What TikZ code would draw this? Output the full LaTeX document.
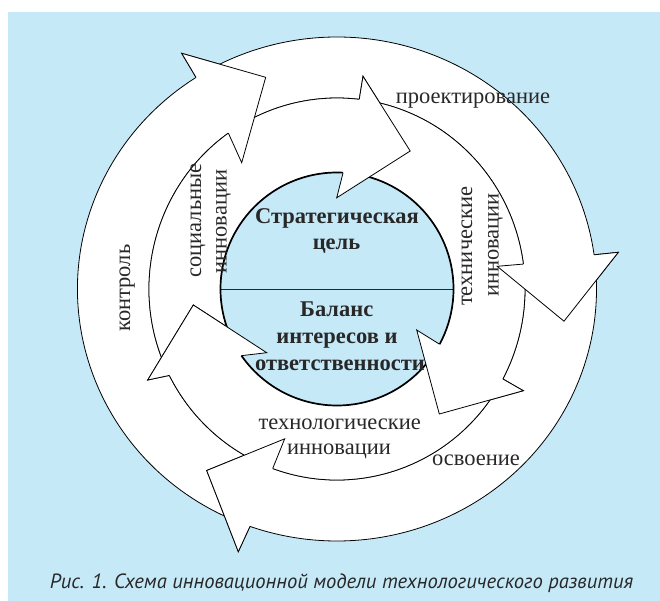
\documentclass[tikz,border=0pt]{standalone}
\usepackage{fontspec}
\setmainfont{Liberation Serif}
\newfontfamily\capfont{PT Sans}
\usetikzlibrary{calc}
\definecolor{panel}{RGB}{198,233,248}
\definecolor{ink}{RGB}{40,40,40}
\tikzset{
  arrowshape/.style={fill=white, draw=black, line width=0.8pt, line join=miter},
  headline/.style={draw=black, line width=0.8pt, line join=miter},
  lbl/.style={text=ink, font=\fontsize{22.5}{26}\selectfont, inner sep=0pt, anchor=base},
  vlbl/.style={lbl, rotate=90},
  core/.style={text=ink, font=\fontsize{22.5}{26}\selectfont\bfseries, inner sep=0pt, anchor=base},
}
% redraw an arrow head on top: fill the triangle, stroke only its outline
\newcommand{\headover}[5]{%
  \fill[white] (#1) -- (#2) -- (#3) -- (#4) -- (#5) -- cycle;
  \draw[headline] (#1) -- (#2) -- (#3) -- (#4) -- (#5);
}
\begin{document}
\begin{tikzpicture}[x=1pt,y=1pt]
\useasboundingbox (0,0) rectangle (660,-601);
\fill[white] (0,0) rectangle (660,-601);
\fill[panel] (8,-12) rectangle (660,-601);

\coordinate (C) at (337,-289);

% ---- ends of the arrow bodies ----
% outer ring: x radius 259.5 / y radius 252 (outer), 188 / 191 (inner)
\coordinate (O1eo) at ($(C)+(-237.1:259.5 and 252)$);
\coordinate (O1ei) at ($(C)+(-234.7:188 and 191)$);
\coordinate (O2eo) at ($(C)+(-352.2:259.5 and 252)$);
\coordinate (O2ei) at ($(C)+(-352.5:188 and 191)$);
\coordinate (O3eo) at ($(C)+(-469.6:259.5 and 252)$);
\coordinate (O3ei) at ($(C)+(-470:188 and 191)$);
% inner ring: 188 / 191 (outer), circle 116.5 (inner)
\coordinate (I1eo) at ($(C)+(-276.8:188 and 191)$);
\coordinate (I1ei) at ($(C)+(-273:116.5 and 116.5)$);
\coordinate (I2eo) at ($(C)+(-388.1:188 and 191)$);
\coordinate (I2ei) at ($(C)+(-388.3:116.5 and 116.5)$);
\coordinate (I3eo) at ($(C)+(-513.1:188 and 191)$);
\coordinate (I3ei) at ($(C)+(-505.1:116.5 and 116.5)$);

% ---- arrow heads: outer wing, tip, inner wing ----
\coordinate (O1wo) at (181.7,-53.3);
\coordinate (O1t)  at (265.7,-77.3);
\coordinate (O1wi) at (241.7,-162.7);
\coordinate (O2wo) at (618.3,-252.3);
\coordinate (O2t)  at (564.0,-321.2);
\coordinate (O2wi) at (497.2,-266.3);
\coordinate (O3wo) at (238.3,-551.7);
\coordinate (O3t)  at (206.7,-470.5);
\coordinate (O3wi) at (284.7,-438.8);
\coordinate (I1wo) at (363.0,-76.3);
\coordinate (I1t)  at (410.2,-151.0);
\coordinate (I1wi) at (336.7,-197.8);
\coordinate (I2wo) at (523.3,-390.7);
\coordinate (I2t)  at (439.3,-414.0);
\coordinate (I2wi) at (416.7,-330.0);
\coordinate (I3wo) at (147.7,-380.0);
\coordinate (I3t)  at (193.3,-305.0);
\coordinate (I3wi) at (266.7,-352.7);

% ---- outer ring arrows ----
\path[arrowshape] ($(C)+(-113:259.5 and 252)$)
  arc[start angle=-113, end angle=-237.1, x radius=259.5, y radius=252]
  -- (O1wo) -- (O1t) -- (O1wi) -- (O1ei)
  arc[start angle=-234.7, end angle=-113, x radius=188, y radius=191] -- cycle;
\path[arrowshape] ($(C)+(-240:259.5 and 252)$)
  arc[start angle=-240, end angle=-352.2, x radius=259.5, y radius=252]
  -- (O2wo) -- (O2t) -- (O2wi) -- (O2ei)
  arc[start angle=-352.5, end angle=-240, x radius=188, y radius=191] -- cycle;
\path[arrowshape] ($(C)+(-356:259.5 and 252)$)
  arc[start angle=-356, end angle=-469.6, x radius=259.5, y radius=252]
  -- (O3wo) -- (O3t) -- (O3wi) -- (O3ei)
  arc[start angle=-470, end angle=-356, x radius=188, y radius=191] -- cycle;

% ---- inner ring arrows ----
\path[arrowshape] ($(C)+(-155:188 and 191)$)
  arc[start angle=-155, end angle=-276.8, x radius=188, y radius=191]
  -- (I1wo) -- (I1t) -- (I1wi) -- (I1ei)
  arc[start angle=-273, end angle=-155, radius=116.5] -- cycle;
\path[arrowshape] ($(C)+(-280:188 and 191)$)
  arc[start angle=-280, end angle=-388.1, x radius=188, y radius=191]
  -- (I2wo) -- (I2t) -- (I2wi) -- (I2ei)
  arc[start angle=-388.3, end angle=-280, radius=116.5] -- cycle;
\path[arrowshape] ($(C)+(-392:188 and 191)$)
  arc[start angle=-392, end angle=-513.1, x radius=188, y radius=191]
  -- (I3wo) -- (I3t) -- (I3wi) -- (I3ei)
  arc[start angle=-505.1, end angle=-392, radius=116.5] -- cycle;

% ---- central disc ----
\fill[panel] (C) circle[radius=116.5];
\draw[ink, line width=0.9pt] ($(C)+(-116.5,0)$) -- ($(C)+(116.5,0)$);
\draw[black, line width=1.7pt] (C) circle[radius=116.5];

% ---- heads lie over the tails and over the disc ----
\headover{O1eo}{O1wo}{O1t}{O1wi}{O1ei}
\headover{O2eo}{O2wo}{O2t}{O2wi}{O2ei}
\headover{O3eo}{O3wo}{O3t}{O3wi}{O3ei}
\headover{I1eo}{I1wo}{I1t}{I1wi}{I1ei}
\headover{I2eo}{I2wo}{I2t}{I2wi}{I2ei}
\headover{I3eo}{I3wo}{I3t}{I3wi}{I3ei}

% ---- labels ----
\node[lbl] (proj) at (473,-104) {проектирование};
\node[vlbl] (ctrl) at (130,-288) {контроль};
\node[vlbl] (soc1) at (201,-220.5) {социальные};
\node[vlbl] (soc2) at (226.7,-221.5) {инновации};
\node[vlbl] (tech1) at (472,-246) {технические};
\node[vlbl] (tech2) at (498.5,-245) {инновации};
\node[lbl] (tl1) at (339.7,-429.3) {технологические};
\node[lbl] (tl2) at (339,-454) {инновации};
\node[lbl] (osv) at (476,-465) {освоение};

\node[core] (g1) at (337,-223.3) {Стратегическая};
\node[core] (g2) at (336.5,-250) {цель};
\node[core] (b1) at (336.7,-316.7) {Баланс};
\node[core] (b2) at (337,-343.3) {интересов и};
\node[core] (b3) at (340,-370) {ответственности};

\node[text=ink, font=\capfont\itshape\fontsize{20.6}{24}\selectfont, inner sep=0pt, anchor=base]
  (cap) at (341.5,-588) {Рис. 1. Схема инновационной модели технологического развития};
\end{tikzpicture}
\end{document}
